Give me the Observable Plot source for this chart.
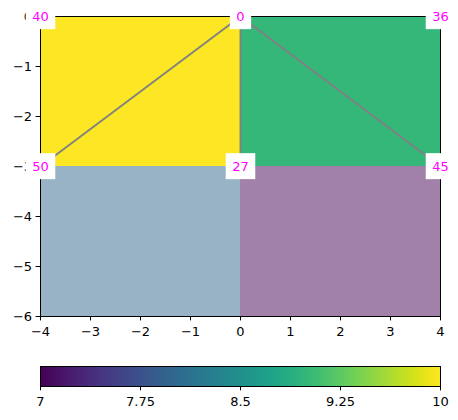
<!DOCTYPE html>
<html>
<head>
<meta charset="utf-8">
<script src="https://cdn.jsdelivr.net/npm/d3@7"></script>
<script src="https://cdn.jsdelivr.net/npm/@observablehq/plot@0.6"></script>
<style>
  html, body { margin: 0; padding: 0; background: white; }
  svg { display: block; }
</style>
</head>
<body>
<script>
// Cells (quadrants)
const cellX1 = [-4, 0, -4, 0];
const cellX2 = [0, 4, 0, 4];
const cellY1 = [0, 0, -3, -3];
const cellY2 = [-3, -3, -6, -6];
const cellValue = [10, 9, 8, 7];
const cellAlpha = [1, 1, 0.5, 0.5];

// Gray line segments
const segX1 = [-4, 0, 0];
const segY1 = [-3, 0, 0];
const segX2 = [0, 0, 4];
const segY2 = [0, -3, -3];

// Corner labels
const labelX = [-4, 0, 4, -4, 0, 4];
const labelY = [0, 0, 0, -3, -3, -3];
const labelText = ["40", "0", "36", "50", "27", "45"];

// Ticks
const xTicks = [-4, -3, -2, -1, 0, 1, 2, 3, 4];
const yTicks = [0, -1, -2, -3, -4, -5, -6];
const cbTicks = [7, 7.75, 8.5, 9.25, 10];
const cbDomain = [7, 10];

const cells = cellValue.map((v, i) => ({x1: cellX1[i], x2: cellX2[i], y1: cellY1[i], y2: cellY2[i], v, a: cellAlpha[i]}));
const segs = segX1.map((_, i) => ({x1: segX1[i], y1: segY1[i], x2: segX2[i], y2: segY2[i]}));
const labels = labelText.map((t, i) => ({x: labelX[i], y: labelY[i], t}));

const fmt = d => String(d).replace("-", "\u2212");
const font = {fontFamily: "DejaVu Sans, sans-serif", fontSize: "13px", color: "black", background: "white", overflow: "visible"};
const colorScale = {type: "linear", scheme: "viridis", domain: cbDomain};

const main = Plot.plot({
  width: 458, height: 340,
  marginLeft: 40, marginRight: 18, marginTop: 16, marginBottom: 24,
  style: font,
  x: {domain: [-4, 4], ticks: xTicks, tickFormat: fmt, tickSize: 4.4, tickPadding: 5.5, label: null},
  y: {domain: [-6, 0], ticks: yTicks, tickFormat: fmt, tickSize: 4.4, tickPadding: 4, label: null},
  color: colorScale,
  marks: [
    Plot.rect(cells, {x1: "x1", x2: "x2", y1: "y1", y2: "y2", fill: "v", fillOpacity: "a"}),
    Plot.link(segs, {x1: "x1", y1: "y1", x2: "x2", y2: "y2", stroke: "gray", strokeWidth: 1.9}),
    Plot.frame({stroke: "black", strokeWidth: 1}),
    Plot.text(labels, {x: "x", y: "y", text: "t", fill: "#ff00ff", fontSize: 13})
  ]
});
document.body.appendChild(main);

// white boxes behind the labels
const tg = main.querySelector('g[aria-label="text"]');
if (tg) {
  const texts = Array.from(tg.querySelectorAll("text"));
  texts.forEach(t => {
    const bb = t.getBBox();
    const r = document.createElementNS("http://www.w3.org/2000/svg", "rect");
    const cy = bb.y + bb.height / 2;
    r.setAttribute("x", bb.x - 6.5);
    r.setAttribute("y", cy - 13);
    r.setAttribute("width", bb.width + 13);
    r.setAttribute("height", 26);
    r.setAttribute("fill", "white");
    r.setAttribute("stroke", "none");
    const tr = t.getAttribute("transform");
    if (tr) r.setAttribute("transform", tr);
    tg.insertBefore(r, texts[0]);
  });
}

const cbar = Plot.plot({
  width: 458, height: 80,
  marginLeft: 40, marginRight: 18, marginTop: 26, marginBottom: 34,
  style: font,
  x: {domain: cbDomain, ticks: cbTicks, tickFormat: d => String(d), tickSize: 4.4, tickPadding: 5.5, label: null},
  y: {domain: [0, 1], axis: null},
  color: colorScale,
  marks: [
    Plot.raster({x1: cbDomain[0], x2: cbDomain[1], y1: 0, y2: 1, width: 400, height: 1, fill: (x, y) => x, imageRendering: "auto"}),
    Plot.frame({stroke: "black", strokeWidth: 1})
  ]
});
document.body.appendChild(cbar);
</script>
</body>
</html>
